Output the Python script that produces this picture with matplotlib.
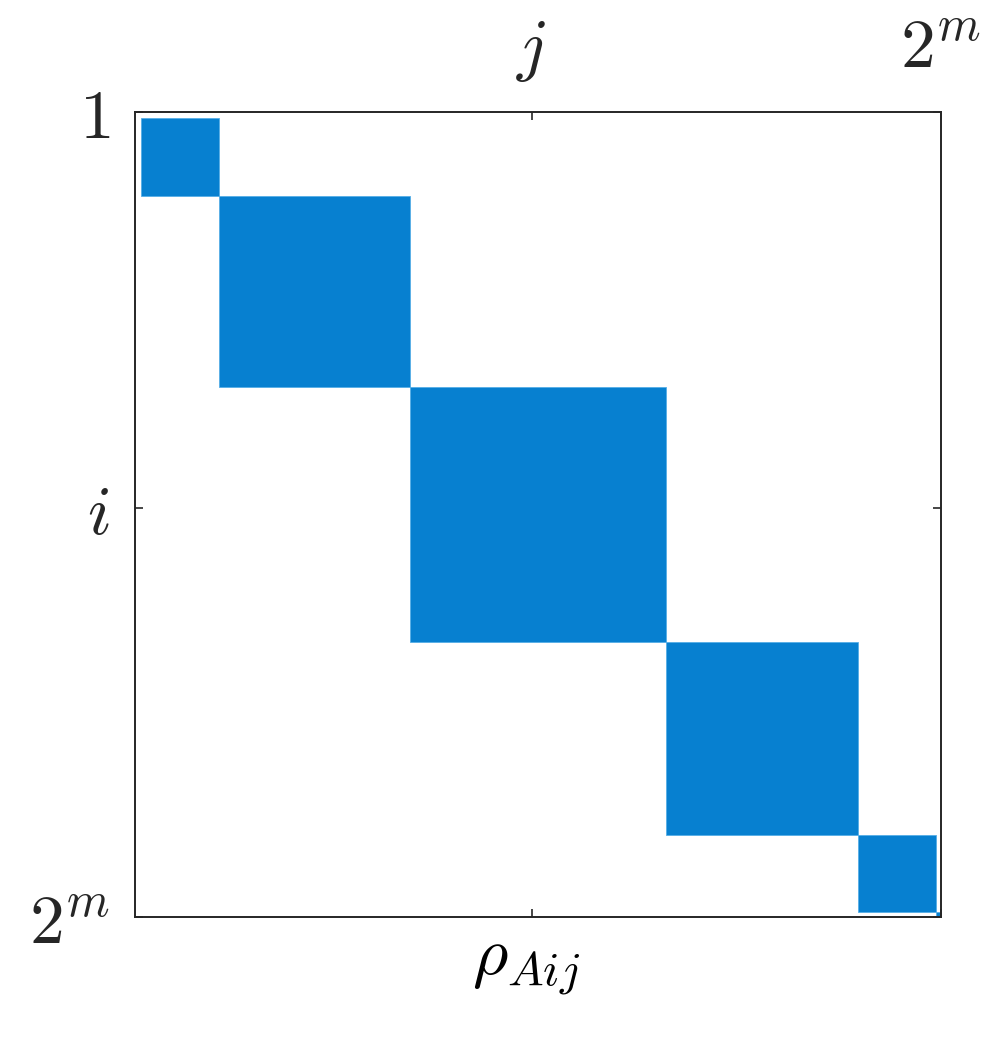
import matplotlib
matplotlib.use('Agg')
import matplotlib.pyplot as plt

# block-diagonal structure of rho_A (edges in matrix index units, size 128)
block_start = [1.0, 13.3, 43.7, 84.3, 114.9, 127.2]
block_end = [13.3, 43.7, 84.3, 114.9, 127.2, 128.0]
n_size = 128

x_ticks = [63, 128]
x_labels = ['$j$', '$2^m$']
y_ticks = [0, 63, 128]
y_labels = ['$1$', '$i$', '$2^m$']

plt.rcParams['mathtext.fontset'] = 'cm'
plt.rcParams['font.family'] = 'serif'
plt.rcParams['font.serif'] = ['DejaVu Serif']

fig = plt.figure(figsize=(9.97, 10.39), dpi=100)
ax = fig.add_axes([0.1354, 0.1174, 0.9438 - 0.1354, 0.8922 - 0.1174])

sizes = [e - s for s, e in zip(block_start, block_end)]
ax.bar(block_start, sizes, width=sizes, bottom=block_start, align='edge',
       color='#0780d0', edgecolor='#55aee6', linewidth=0.6)

ax.set_xlim(0, n_size)
ax.set_ylim(n_size, 0)

ax.set_xticks(x_ticks)
ax.set_xticklabels(x_labels)
ax.set_yticks(y_ticks)
ax.set_yticklabels(y_labels)

ax.tick_params(axis='both', direction='in', length=6, width=1.2, color='#262626',
               labelsize=50, labelcolor='#262626')
ax.tick_params(axis='x', top=True, bottom=True, labeltop=True, labelbottom=False, pad=32)
ax.tick_params(axis='y', left=True, right=True, pad=18)
for lab in ax.get_xticklabels():
    lab.set_verticalalignment('baseline')
for lab in ax.get_yticklabels():
    lab.set_y(lab.get_position()[1])

ax.xaxis.set_label_position('bottom')
ax.set_xlabel(r'$\rho_{Aij}$', fontsize=49, labelpad=6, color='black')
ax.xaxis.set_label_coords(0.485, -0.018, transform=ax.transAxes)
ax.xaxis.label.set_verticalalignment('top')

for sp in ax.spines.values():
    sp.set_linewidth(1.4)
    sp.set_color('#262626')

fig.savefig('out.png', dpi=100)
